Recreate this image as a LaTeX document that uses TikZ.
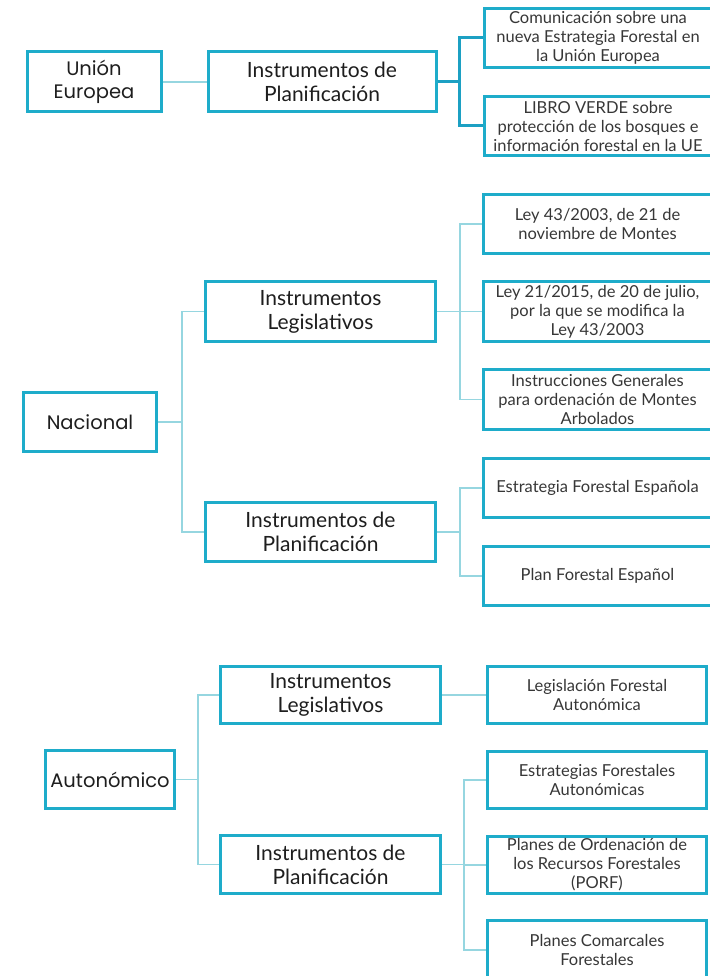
\documentclass[tikz,border=0pt]{standalone}
\usepackage{fontspec}
\setmainfont{Lato}
\newfontfamily\leftfont{Poppins}
\definecolor{boxc}{RGB}{30,172,202}
\definecolor{thinc}{RGB}{150,214,224}
\definecolor{thickc}{RGB}{28,160,195}
\definecolor{txt}{RGB}{30,30,30}
\definecolor{txtb}{RGB}{55,55,55}
\begin{document}
\begin{tikzpicture}[x=1pt,y=-1pt,
  basebox/.style={draw=boxc,line width=3pt,rectangle,inner sep=0pt,align=center,text=txt,fill=white},
  lvlone/.style={basebox,font=\leftfont\fontsize{19.5}{23}\selectfont},
  lvltwo/.style={basebox,font=\fontsize{21}{24}\selectfont},
  lvlthree/.style={basebox,text=txtb,font=\fontsize{16.5}{19}\selectfont},
  thin/.style={draw=thinc,line width=1.3pt},
  thick/.style={draw=thickc,line width=3pt}]
\useasboundingbox (0,0) rectangle (709,976);
\fill[white] (0,0) rectangle (709,976);

% ---- Union Europea
\node[lvlone,minimum width=134pt,minimum height=60pt] (ue) at (94,82) {Unión\\Europea};
\node[lvltwo,minimum width=228pt,minimum height=60pt] (ueplan) at (322,82) {Instrumentos de\\Planificación};
\node[lvlthree,minimum width=228pt,minimum height=59pt] (com) at (598,38) {Comunicación sobre una\\nueva Estrategia Forestal en\\la Unión Europea};
\node[lvlthree,minimum width=228pt,minimum height=59pt] (libro) at (598,126) {LIBRO VERDE sobre\\protección de los bosques e\\información forestal en la UE};
\draw[thin] (ue.east) -- (ueplan.west);
\draw[thick] (ueplan.east) -- ++(22,0) |- (com.west);
\draw[thick] (ueplan.east) -- ++(22,0) |- (libro.west);

% ---- Nacional
\node[lvlone,minimum width=133pt,minimum height=59pt] (nac) at (90,422) {Nacional};
\node[lvltwo,minimum width=230pt,minimum height=60pt] (nleg) at (320.5,311.5) {Instrumentos\\Legislativos};
\node[lvltwo,minimum width=230pt,minimum height=59pt] (nplan) at (320.5,532) {Instrumentos de\\Planificación};
\node[lvlthree,minimum width=229pt,minimum height=59pt] (ley43) at (597.5,224) {Ley 43/2003, de 21 de\\noviembre de Montes};
\node[lvlthree,minimum width=229pt,minimum height=60pt] (ley21) at (597.5,311.5) {Ley 21/2015, de 20 de julio,\\por la que se modifica la\\Ley 43/2003};
\node[lvlthree,minimum width=229pt,minimum height=60pt] (instr) at (597.5,399.5) {Instrucciones Generales\\para ordenación de Montes\\Arbolados};
\node[lvlthree,minimum width=229pt,minimum height=59pt] (estr) at (597.5,488) {Estrategia Forestal Española};
\node[lvlthree,minimum width=229pt,minimum height=59pt] (plan) at (597.5,576) {Plan Forestal Español};
\draw[thin] (nac.east) -- ++(24,0) |- (nleg.west);
\draw[thin] (nac.east) -- ++(24,0) |- (nplan.west);
\draw[thin] (nleg.east) -- ++(23,0) |- (ley43.west);
\draw[thin] (nleg.east) -- (ley21.west);
\draw[thin] (nleg.east) -- ++(23,0) |- (instr.west);
\draw[thin] (nplan.east) -- ++(23,0) |- (estr.west);
\draw[thin] (nplan.east) -- ++(23,0) |- (plan.west);

% ---- Autonomico
\node[lvlone,minimum width=129pt,minimum height=58pt] (aut) at (110,779.5) {Autonómico};
\node[lvltwo,minimum width=220pt,minimum height=57pt] (aleg) at (330.5,695) {Instrumentos\\Legislativos};
\node[lvltwo,minimum width=220pt,minimum height=58pt] (aplan) at (330.5,864.5) {Instrumentos de\\Planificación};
\node[lvlthree,minimum width=219pt,minimum height=57pt] (alegf) at (597,695) {Legislación Forestal\\Autonómica};
\node[lvlthree,minimum width=219pt,minimum height=57pt] (aest) at (597,780) {Estrategias Forestales\\Autonómicas};
\node[lvlthree,minimum width=219pt,minimum height=57pt] (aord) at (597,865) {Planes de Ordenación de\\los Recursos Forestales\\(PORF)};
\node[lvlthree,minimum width=219pt,minimum height=59pt] (acom) at (597,950) {Planes Comarcales\\Forestales};
\draw[thin] (aut.east) -- ++(22,0) |- (aleg.west);
\draw[thin] (aut.east) -- ++(22,0) |- (aplan.west);
\draw[thin] (aleg.east) -- (alegf.west);
\draw[thin] (aplan.east) -- ++(22,0) |- (aest.west);
\draw[thin] (aplan.east) -- ++(22,0) |- (aord.west);
\draw[thin] (aplan.east) -- ++(22,0) |- (acom.west);
\end{tikzpicture}
\end{document}
